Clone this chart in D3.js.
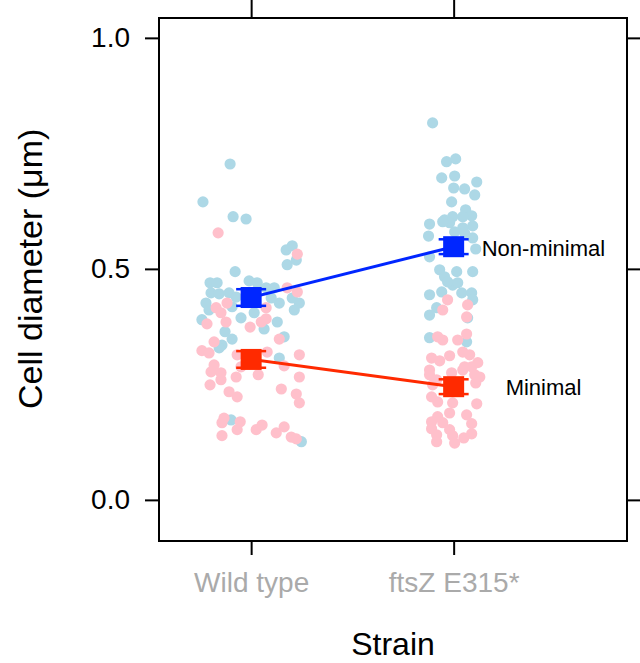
<!DOCTYPE html>
<html>
<head>
<meta charset="utf-8">
<script src="https://cdn.jsdelivr.net/npm/d3@7"></script>
<style>
  body { margin: 0; background: #fff; }
  svg { font-family: "Liberation Sans", Arial, sans-serif; }
</style>
</head>
<body>
<div id="chart"></div>
<script>
// categories
const strains = ["Wild type", "ftsZ E315*"]
const yTicks = [0, 0.5, 1]

// group means (um) and standard errors
const nonMinimalMean = [0.438, 0.548]
const nonMinimalSe = [0.018, 0.016]
const minimalMean = [0.304, 0.245]
const minimalSe = [0.018, 0.016]

// individual cells: [jittered strain position, diameter]
const wtNonMinimal = [[0.896,0.727],[0.762,0.645],[0.911,0.613],[0.975,0.608],[1.173,0.541],[1.203,0.550],[1.178,0.509],[1.223,0.519],[0.921,0.494],[0.797,0.470],[0.990,0.474],[0.832,0.470],[0.802,0.448],[0.842,0.446],[0.891,0.448],[0.926,0.439],[1.030,0.470],[1.074,0.459],[1.114,0.459],[1.203,0.437],[1.238,0.426],[1.213,0.411],[0.777,0.426],[0.906,0.418],[1.015,0.405],[1.139,0.426],[1.099,0.437],[0.757,0.390],[0.950,0.394],[1.129,0.385],[0.792,0.411],[1.064,0.370],[0.871,0.364],[1.163,0.353],[0.906,0.348],[0.856,0.335],[0.842,0.329],[1.139,0.307],[0.901,0.173],[1.248,0.126]]
const wtMinimal = [[0.837,0.578],[1.228,0.532],[1.178,0.459],[1.228,0.450],[0.881,0.426],[0.827,0.416],[0.851,0.405],[1.074,0.416],[0.782,0.381],[0.876,0.385],[1.074,0.392],[0.995,0.374],[1.139,0.348],[0.817,0.342],[0.757,0.323],[0.792,0.318],[0.931,0.314],[1.238,0.314],[0.950,0.288],[1.163,0.290],[0.817,0.292],[0.802,0.277],[0.851,0.275],[1.035,0.271],[0.926,0.266],[1.238,0.266],[0.851,0.260],[0.797,0.249],[1.149,0.240],[0.891,0.234],[1.223,0.229],[0.931,0.223],[1.238,0.210],[0.866,0.177],[0.856,0.167],[0.946,0.169],[0.931,0.152],[1.054,0.162],[1.025,0.152],[1.163,0.158],[1.124,0.145],[0.856,0.139],[1.198,0.136],[1.223,0.132],[1.079,0.320],[1.050,0.385]]
const ftsNonMinimal = [[1.896,0.816],[1.965,0.732],[2.010,0.738],[1.941,0.697],[2.005,0.701],[2.114,0.688],[2.000,0.675],[2.054,0.673],[2.104,0.660],[1.990,0.645],[2.059,0.628],[2.089,0.615],[2.045,0.613],[1.955,0.606],[1.995,0.613],[1.980,0.600],[1.881,0.597],[2.094,0.593],[2.045,0.589],[1.876,0.571],[2.054,0.578],[2.005,0.580],[1.946,0.602],[2.109,0.543],[2.094,0.567],[1.881,0.526],[1.931,0.498],[2.015,0.494],[2.094,0.494],[1.955,0.483],[1.995,0.465],[1.881,0.444],[1.941,0.450],[2.040,0.448],[2.089,0.448],[2.094,0.433],[1.916,0.416],[1.881,0.400],[2.069,0.394],[1.881,0.351],[2.064,0.342],[1.970,0.472],[2.020,0.470]]
const ftsMinimal = [[1.970,0.433],[2.069,0.422],[1.946,0.411],[2.064,0.396],[2.064,0.359],[1.921,0.353],[1.946,0.346],[2.020,0.346],[2.045,0.320],[1.980,0.312],[1.891,0.307],[1.931,0.301],[2.079,0.314],[2.119,0.297],[2.089,0.288],[2.104,0.271],[2.129,0.266],[2.045,0.281],[1.881,0.281],[1.990,0.275],[1.916,0.260],[1.896,0.249],[2.109,0.253],[1.891,0.223],[1.921,0.212],[1.995,0.210],[2.114,0.208],[1.980,0.188],[2.064,0.184],[1.921,0.180],[1.891,0.169],[1.946,0.167],[2.089,0.165],[1.891,0.154],[1.980,0.152],[1.916,0.141],[1.995,0.139],[2.089,0.143],[2.050,0.134],[1.916,0.126],[2.005,0.123],[1.881,0.271],[2.054,0.288]]

// layout
const width = 640
const height = 663
const box = { left: 159, right: 627, top: 18, bottom: 541 }

const svg = d3.select("#chart").append("svg").attr("width", width).attr("height", height)

// scales
const x = d3.scaleLinear().domain([0.545, 2.856]).range([box.left, box.right])
const y = d3.scaleLinear().domain([-0.089, 1.043]).range([box.bottom, box.top])

// points
const pointGroup = svg.append("g").attr("id", "points")
const drawPoints = (data, colour) => {
  pointGroup.selectAll(null).data(data).enter().append("circle")
    .attr("cx", d => x(d[0]))
    .attr("cy", d => y(d[1]))
    .attr("r", 5.6)
    .attr("fill", colour)
}
drawPoints(wtNonMinimal, "#add8e6")
drawPoints(ftsNonMinimal, "#add8e6")
drawPoints(wtMinimal, "#ffc0cb")
drawPoints(ftsMinimal, "#ffc0cb")

// means with error bars
const meanGroup = svg.append("g").attr("id", "means")
const drawMeans = (means, se, colour, label, dx, dy) => {
  const pts = means.map((m, i) => ({ x: i + 1, m: m, se: se[i] }))
  meanGroup.append("path").datum(pts)
    .attr("d", d3.line().x(d => x(d.x)).y(d => y(d.m)))
    .attr("fill", "none").attr("stroke", colour).attr("stroke-width", 3)
  const g = meanGroup.selectAll(null).data(pts).enter().append("g")
  g.append("line")
    .attr("x1", d => x(d.x)).attr("x2", d => x(d.x))
    .attr("y1", d => y(d.m - d.se)).attr("y2", d => y(d.m + d.se))
    .attr("stroke", colour).attr("stroke-width", 2.5)
  ;[-1, 1].forEach(s => {
    g.append("line")
      .attr("x1", d => x(d.x) - 15).attr("x2", d => x(d.x) + 15)
      .attr("y1", d => y(d.m + s * d.se)).attr("y2", d => y(d.m + s * d.se))
      .attr("stroke", colour).attr("stroke-width", 2.5)
  })
  g.append("rect")
    .attr("x", d => x(d.x) - 10.5).attr("y", d => y(d.m) - 10.5)
    .attr("width", 21).attr("height", 21)
    .attr("fill", colour)
  meanGroup.append("text")
    .attr("x", x(2) + dx).attr("y", y(means[1]) + dy)
    .attr("font-size", 22).attr("fill", "#000")
    .text(label)
}
drawMeans(nonMinimalMean, nonMinimalSe, "#0026ff", "Non-minimal", 28, 9)
drawMeans(minimalMean, minimalSe, "#ff2a00", "Minimal", 52, 8)

// axes
const axisGroup = svg.append("g").attr("id", "axisGroup")
const yAxis = d3.axisLeft(y).tickValues(yTicks).tickFormat(d3.format(".1f")).tickSize(14).tickPadding(15)
const yAxisRight = d3.axisRight(y).tickValues(yTicks).tickFormat("").tickSize(13)
const xAxis = d3.axisBottom(x).tickValues([1, 2]).tickFormat((d, i) => strains[i]).tickSize(14).tickPadding(17)
const xAxisTop = d3.axisTop(x).tickValues([1, 2]).tickFormat("").tickSize(18)

axisGroup.append("g").attr("transform", `translate(${box.left},0)`).call(yAxis)
  .attr("font-size", 28).call(g => g.selectAll("text").attr("fill", "#000"))
axisGroup.append("g").attr("transform", `translate(${box.right},0)`).call(yAxisRight)
axisGroup.append("g").attr("transform", `translate(0,${box.bottom})`).call(xAxis)
  .attr("font-size", 28).call(g => g.selectAll("text").attr("fill", "#aaaaaa"))
axisGroup.append("g").attr("transform", `translate(0,${box.top})`).call(xAxisTop)
axisGroup.selectAll(".domain").remove()
axisGroup.selectAll(".tick line").attr("stroke", "#000").attr("stroke-width", 2)
axisGroup.attr("font-family", "'Liberation Sans', Arial, sans-serif")

// frame
svg.append("rect")
  .attr("x", box.left).attr("y", box.top)
  .attr("width", box.right - box.left).attr("height", box.bottom - box.top)
  .attr("fill", "none").attr("stroke", "#000").attr("stroke-width", 2)

// axis titles
svg.append("text").text("Strain")
  .attr("x", (box.left + box.right) / 2).attr("y", 655)
  .attr("text-anchor", "middle").attr("font-size", 32)
svg.append("text").text("Cell diameter (\u03bcm)")
  .attr("transform", `translate(42,${y(0.5)}) rotate(-90)`)
  .attr("text-anchor", "middle").attr("font-size", 34)
</script>
</body>
</html>
